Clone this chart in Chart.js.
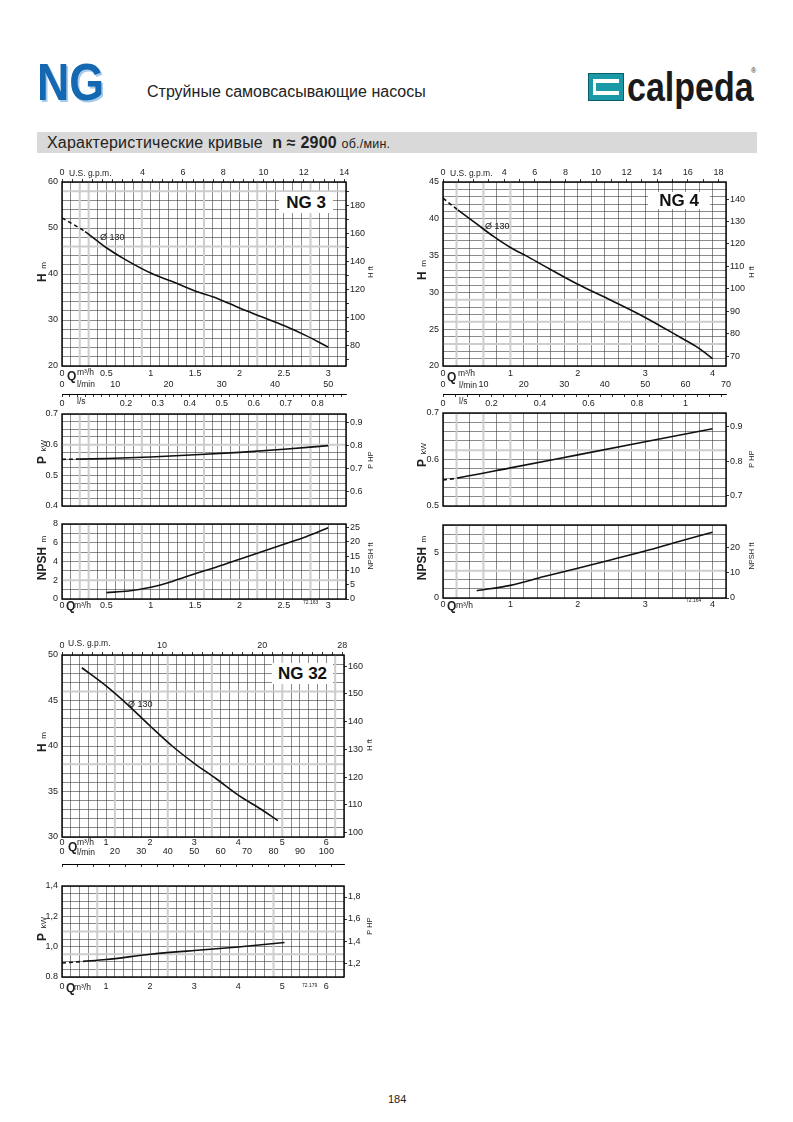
<!DOCTYPE html>
<html>
<head>
<meta charset="utf-8">
<title>NG — Характеристические кривые</title>
<script src="https://cdn.jsdelivr.net/npm/chart.js"></script>
<style>
  body { margin: 0; background: #fff; }
  #page { position: relative; width: 793px; height: 1122px; overflow: hidden;
          font-family: Arial, "Liberation Sans", Helvetica, sans-serif; color: #222; }
  #page canvas { position: absolute; z-index: 1; }
  .t { position: absolute; white-space: nowrap; line-height: 1; z-index: 2; }
  .tag { position: absolute; z-index: 2; background: #fff; text-align: center;
         font: bold 17px Arial, "Liberation Sans", sans-serif; color: #111; }
  .ng { left: 37px; top: 52px; font: bold 52px Arial, "Liberation Sans", sans-serif;
        color: #1467b1; text-shadow: 2px 2px 0 #a9cbeb; transform: scaleX(0.86); transform-origin: left top; }
  .cal { left: 627px; top: 65px; font: bold 40px Arial, "Liberation Sans", sans-serif; color: #1a1a1a;
         transform: scaleX(0.85); transform-origin: left top; }
  .band { position: absolute; left: 37px; top: 132px; width: 720px; height: 21px; background: #d9d9d9; }
  .logo { position: absolute; left: 588px; top: 73px; width: 34px; height: 26px; background: #1a9aa6; border: 1px solid #0c5d66; }
  .logo i { position: absolute; left: 4px; top: 5px; width: 26px; height: 16px; background: #fff; }
  .logo b { position: absolute; left: 7px; top: 9px; width: 23px; height: 8px; background: #1a9aa6; }
</style>
</head>
<body>
<div id="page">
  <div class="t ng">NG</div>
  <div class="t" style="left:147px;top:84px;font-size:16px;">Струйные самовсасывающие насосы</div>
  <div class="logo"><i></i><b></b></div>
  <div class="t cal">calpeda</div>
  <div class="t" style="left:751px;top:67px;font-size:7px;">®</div>
  <div class="band"></div>
  <div class="t" style="left:47px;top:135px;font-size:16px;letter-spacing:0.2px;">Характеристические кривые&nbsp; <b>n ≈ 2900</b> <span style="font-size:12.5px">об./мин.</span></div>
  <div class="t" style="left:388px;top:1094px;font-size:11px;">184</div>
</div>
<script>
// ---- unit conversions (from m³/h and m / kW) ----
const GPM = 0.2271, LMIN = 1000 / 60, LS = 1 / 3.6, FT = 3.2808, HP = 1.341;

// ---- NG 3 curves ----
const ng3HQ   = [0, 0.26, 0.39, 0.5, 0.69, 1.0, 1.25, 1.5, 1.75, 2.0, 2.25, 2.5, 2.75, 3.0];
const ng3H    = [52.2, 49.2, 47.3, 45.7, 43.4, 40.2, 38.3, 36.3, 34.7, 32.6, 30.7, 28.8, 26.6, 24.1];
const ng3PQ   = [0, 0.2, 0.5, 1.0, 1.5, 2.0, 2.5, 3.0];
const ng3P    = [0.552, 0.553, 0.555, 0.560, 0.567, 0.575, 0.585, 0.597];
const ng3NQ   = [0.5, 0.75, 1.0, 1.25, 1.5, 1.75, 2.0, 2.25, 2.5, 2.75, 3.0];
const ng3NPSH = [0.68, 0.85, 1.25, 1.9, 2.7, 3.45, 4.25, 5.05, 5.85, 6.65, 7.6];

// ---- NG 4 ----
const ng4HQ   = [0, 0.22, 0.5, 0.75, 1.0, 1.25, 1.5, 2.0, 2.5, 3.0, 3.5, 3.8, 4.0];
const ng4H    = [42.8, 41.2, 39.3, 37.6, 36.1, 34.9, 33.6, 31.1, 28.9, 26.6, 24.0, 22.4, 21.0];
const ng4PQ   = [0, 0.21, 1.0, 2.0, 3.0, 4.0];
const ng4P    = [0.556, 0.560, 0.582, 0.610, 0.638, 0.666];
const ng4NQ   = [0.5, 1.0, 1.5, 2.0, 2.5, 3.0, 3.5, 4.0];
const ng4NPSH = [0.8, 1.38, 2.35, 3.27, 4.2, 5.15, 6.2, 7.2];

// ---- NG 32 ----
const ng32HQ  = [0.45, 1.0, 1.5, 2.0, 2.5, 3.0, 3.5, 4.0, 4.5, 4.9];
const ng32H   = [48.6, 46.6, 44.5, 42.2, 40.0, 38.1, 36.4, 34.6, 33.1, 31.8];
const ng32PQ  = [0, 0.48, 1.0, 2.0, 3.0, 4.0, 5.05];
const ng32P   = [0.892, 0.903, 0.915, 0.950, 0.975, 0.998, 1.027];

// ---- tick labels ----
const ng3QLabels    = [0, 0.5, 1, 1.5, 2, 2.5, 3];
const ng3GpmLabels  = [0, 4, 6, 8, 10, 12, 14];
const ng3LminLabels = [0, 10, 20, 30, 40, 50];
const ng3LsLabels   = [0, 0.2, 0.3, 0.4, 0.5, 0.6, 0.7, 0.8];
const ng3HLabels    = [20, 30, 40, 50, 60];
const ng3FtLabels   = [80, 100, 120, 140, 160, 180];
const ng3PLabels    = [0.4, 0.5, 0.6, 0.7];
const ng3HpLabels   = [0.6, 0.7, 0.8, 0.9];
const ng3NLabels    = [0, 2, 4, 6, 8];
const ng3NftLabels  = [0, 5, 10, 15, 20, 25];

const ng4QLabels    = [0, 1, 2, 3, 4];
const ng4GpmLabels  = [0, 4, 6, 8, 10, 12, 14, 16, 18];
const ng4LminLabels = [0, 10, 20, 30, 40, 50, 60, 70];
const ng4LsLabels   = [0, 0.2, 0.4, 0.6, 0.8, 1];
const ng4HLabels    = [20, 25, 30, 35, 40, 45];
const ng4FtLabels   = [70, 80, 90, 100, 110, 120, 130, 140];
const ng4PLabels    = [0.5, 0.6, 0.7];
const ng4HpLabels   = [0.7, 0.8, 0.9];
const ng4NLabels    = [0, 5];
const ng4NftLabels  = [0, 10, 20];

const ng32QLabels    = [0, 1, 2, 3, 4, 5, 6];
const ng32GpmLabels  = [0, 10, 20, 28];
const ng32LminLabels = [0, 20, 30, 40, 50, 60, 70, 80, 90, 100];
const ng32HLabels    = [30, 35, 40, 45, 50];
const ng32FtLabels   = [100, 110, 120, 130, 140, 150, 160];
const ng32PLabels    = [0.8, 1.0, 1.2, 1.4];
const ng32PTexts     = ['0.8', '1,0', '1,2', '1,4'];
const ng32HpLabels   = [1.2, 1.4, 1.6, 1.8];
const ng32HpTexts    = ['1,2', '1,4', '1,6', '1,8'];

// light grey reference lines printed over the grid
const ng3GreyQ  = [0.2, 0.3, 0.9, 1.6, 2.2, 2.8];
const ng4GreyQ  = [0.2, 0.6, 1.0];
const ng32GreyQ = [1.2, 2.4, 3.4, 5.0, 6.2];

const page = document.getElementById('page');
const FONT = 'Arial, "Liberation Sans", Helvetica, sans-serif';
const tickFont = { family: FONT, size: 9 };
const greyLines = new WeakMap();

// grey lines under the curves, black frame on top
Chart.register({
  id: 'frame',
  beforeDatasetsDraw(chart) {
    const g = greyLines.get(chart.canvas) || {};
    const { ctx, chartArea: a, scales } = chart;
    ctx.save();
    ctx.strokeStyle = '#cdcdcd';
    ctx.lineWidth = 2;
    ctx.beginPath();
    (g.xs || []).forEach(v => {
      const px = scales.x.getPixelForValue(v);
      ctx.moveTo(px, a.top); ctx.lineTo(px, a.bottom);
    });
    (g.ys || []).forEach(v => {
      const py = scales.y.getPixelForValue(v);
      ctx.moveTo(a.left, py); ctx.lineTo(a.right, py);
    });
    ctx.stroke();
    ctx.restore();
  },
  afterDatasetsDraw(chart) {
    const { ctx, chartArea: a } = chart;
    ctx.save();
    ctx.strokeStyle = '#000';
    ctx.lineWidth = 1.4;
    ctx.strokeRect(a.left, a.top, a.right - a.left, a.bottom - a.top);
    ctx.restore();
  }
});

function pick(values, texts) {
  return v => {
    const i = values.findIndex(l => Math.abs(l - v) < 1e-6);
    return i < 0 ? '' : (texts ? texts[i] : String(values[i]));
  };
}

function ax(position, min, max, step, labels, o = {}) {
  return {
    type: 'linear', position, min, max,
    weight: o.weight || 0,
    size: o.size || 0,
    afterFit: s => {
      if (s.isHorizontal()) s.height = o.size || 0; else s.width = o.size || 0;
      s.paddingLeft = s.paddingRight = s.paddingTop = s.paddingBottom = 0;
    },
    border: { display: !!o.border, color: '#000', width: 1 },
    grid: {
      drawOnChartArea: !!o.main,
      drawTicks: !!o.tick,
      tickLength: o.tick || 0,
      color: o.main ? '#3c3c3c' : '#000',
      lineWidth: o.main ? 0.6 : 0.8
    },
    ticks: {
      stepSize: step, autoSkip: false, includeBounds: false, maxRotation: 0, minRotation: 0,
      display: labels !== null,
      padding: o.pad == null ? 2 : o.pad,
      font: tickFont, color: '#222',
      callback: pick(labels || [], o.texts)
    }
  };
}

function curve(qs, vs, dashTo) {
  return {
    data: qs.map((q, i) => ({ x: q, y: vs[i] })),
    xAxisID: 'x', yAxisID: 'y',
    borderColor: '#111', borderWidth: 1.6, pointRadius: 0, fill: false,
    cubicInterpolationMode: 'monotone',
    segment: { borderDash: c => (dashTo != null && c.p1.parsed.x <= dashTo + 1e-9) ? [4, 3] : undefined }
  };
}

// plot = [left, top, right, bottom] of the framed grid on the page
function panel(plot, scales, datasets, grey) {
  const pad = 4;
  const m = { left: pad, right: pad, top: pad, bottom: pad };
  Object.values(scales).forEach(s => { m[s.position] += s.size; });
  const cv = document.createElement('canvas');
  cv.width = plot[2] - plot[0] + m.left + m.right;
  cv.height = plot[3] - plot[1] + m.top + m.bottom;
  cv.style.left = (plot[0] - m.left) + 'px';
  cv.style.top = (plot[1] - m.top) + 'px';
  page.appendChild(cv);
  greyLines.set(cv, grey);
  new Chart(cv, {
    type: 'line',
    data: { datasets },
    options: {
      responsive: false, animation: false, events: [],
      layout: { padding: pad },
      plugins: { legend: { display: false }, tooltip: { enabled: false } },
      scales
    }
  });
}

// ================= NG 3 =================
const Q3 = 3.2;
panel([62, 182, 346, 366], {
  x:    ax('bottom', 0, Q3, 0.1, ng3QLabels, { main: true, size: 11, pad: 2 }),
  lmin: ax('bottom', 0, Q3 * LMIN, 10, ng3LminLabels, { size: 17, pad: 2, weight: 1 }),
  ls:   ax('bottom', 0, Q3 * LS, 0.025, ng3LsLabels, { size: 20, pad: 1, tick: 3, border: true, weight: 2 }),
  gpm:  ax('top', 0, Q3 / GPM, 0.5, ng3GpmLabels, { size: 22, pad: 1, tick: 3 }),
  y:    ax('left', 20, 60, 2, ng3HLabels, { main: true, size: 42, pad: 4 }),
  y2:   ax('right', 20 * FT, 60 * FT, 10, ng3FtLabels, { size: 34, pad: 1, tick: 3 })
}, [curve(ng3HQ, ng3H, 0.26)], { xs: ng3GreyQ, ys: [58, 46] });

panel([62, 414, 346, 506], {
  x:  ax('bottom', 0, Q3, 0.1, null, { main: true }),
  y:  ax('left', 0.4, 0.7, 0.025, ng3PLabels, { main: true, size: 42, pad: 4 }),
  y2: ax('right', 0.4 * HP, 0.7 * HP, 0.1, ng3HpLabels, { size: 34, pad: 1, tick: 3 })
}, [curve(ng3PQ, ng3P, 0.2)], { xs: ng3GreyQ, ys: [0.6] });

panel([62, 524, 346, 599], {
  x:  ax('bottom', 0, Q3, 0.1, ng3QLabels, { main: true, size: 14, pad: 1 }),
  y:  ax('left', 0, 8, 1, ng3NLabels, { main: true, size: 42, pad: 4 }),
  y2: ax('right', 0, 8 * FT, 5, ng3NftLabels, { size: 34, pad: 1, tick: 3 })
}, [curve(ng3NQ, ng3NPSH)], { xs: ng3GreyQ, ys: [2] });

// ================= NG 4 =================
const Q4 = 4.2;
panel([443, 182, 726, 366], {
  x:    ax('bottom', 0, Q4, 0.2, ng4QLabels, { main: true, size: 11, pad: 2 }),
  lmin: ax('bottom', 0, Q4 * LMIN, 10, ng4LminLabels, { size: 17, pad: 2, weight: 1 }),
  ls:   ax('bottom', 0, Q4 * LS, 0.05, ng4LsLabels, { size: 20, pad: 1, tick: 3, border: true, weight: 2 }),
  gpm:  ax('top', 0, Q4 / GPM, 1, ng4GpmLabels, { size: 22, pad: 1, tick: 3 }),
  y:    ax('left', 20, 45, 1, ng4HLabels, { main: true, size: 42, pad: 4 }),
  y2:   ax('right', 20 * FT, 45 * FT, 10, ng4FtLabels, { size: 34, pad: 1, tick: 3 })
}, [curve(ng4HQ, ng4H, 0.22)], { xs: ng4GreyQ, ys: [29, 26, 23] });

panel([443, 413, 726, 506], {
  x:  ax('bottom', 0, Q4, 0.2, null, { main: true }),
  y:  ax('left', 0.5, 0.7, 0.02, ng4PLabels, { main: true, size: 42, pad: 4 }),
  y2: ax('right', 0.5 * HP, 0.7 * HP, 0.1, ng4HpLabels, { size: 34, pad: 1, tick: 3 })
}, [curve(ng4PQ, ng4P, 0.21)], { xs: ng4GreyQ, ys: [0.62] });

panel([443, 525, 726, 598], {
  x:  ax('bottom', 0, Q4, 0.2, ng4QLabels, { main: true, size: 14, pad: 1 }),
  y:  ax('left', 0, 8, 1, ng4NLabels, { main: true, size: 42, pad: 4 }),
  y2: ax('right', 0, 29, 10, ng4NftLabels, { size: 34, pad: 1, tick: 3 })
}, [curve(ng4NQ, ng4NPSH)], { xs: ng4GreyQ.slice(0, 2), ys: [3] });

// ================= NG 32 =================
const Q32 = 6.4;
panel([62, 655, 344, 837], {
  x:    ax('bottom', 0, Q32, 0.2, ng32QLabels, { main: true, size: 9, pad: 0 }),
  lmin: ax('bottom', 0, Q32 * LMIN, 10, ng32LminLabels, { size: 18, pad: 0, weight: 1 }),
  ls:   ax('bottom', 0, Q32 * LS, 0.1, null, { size: 4, tick: 3, border: true, weight: 2 }),
  gpm:  ax('top', 0, Q32 / GPM, 1, ng32GpmLabels, { size: 22, pad: 1, tick: 3 }),
  y:    ax('left', 30, 50, 1, ng32HLabels, { main: true, size: 42, pad: 4 }),
  y2:   ax('right', 30 * FT, 50 * FT, 10, ng32FtLabels, { size: 34, pad: 1, tick: 3 })
}, [curve(ng32HQ, ng32H)], { xs: ng32GreyQ, ys: [46, 38] });

panel([62, 886, 344, 977], {
  x:  ax('bottom', 0, Q32, 0.2, ng32QLabels, { main: true, size: 16, pad: 4 }),
  y:  ax('left', 0.8, 1.4, 0.05, ng32PLabels, { main: true, size: 42, pad: 4, texts: ng32PTexts }),
  y2: ax('right', 1.073, 1.9, 0.2, ng32HpLabels, { size: 34, pad: 1, tick: 3, texts: ng32HpTexts })
}, [curve(ng32PQ, ng32P, 0.48)], { xs: [0.8, 2.4, 3.4, 4.8], ys: [1.1, 0.95] });

// ================= text overlays =================
function txt(x, cy, html, size, css = '') {
  const d = document.createElement('div');
  d.className = 't';
  d.style.cssText = `left:${x}px;top:${cy - size / 2}px;font-size:${size}px;${css}`;
  d.innerHTML = html;
  page.appendChild(d);
}
function vtitle(cx, cy, html) {
  const d = document.createElement('div');
  d.className = 't';
  d.style.cssText = `left:${cx}px;top:${cy}px;transform:translate(-50%,-50%) rotate(-90deg);`;
  d.innerHTML = html;
  page.appendChild(d);
}
function tag(x, y, w, h, label) {
  const d = document.createElement('div');
  d.className = 'tag';
  d.style.cssText = `left:${x}px;top:${y}px;width:${w}px;height:${h}px;line-height:${h}px;`;
  d.textContent = label;
  page.appendChild(d);
}
const big = s => `<b style="font-size:12px">${s}</b>`;
const small = s => `<span style="font-size:8px">${s}</span>`;
const tiny = s => `<span style="font-size:7.5px">${s}</span>`;

// NG 3
txt(69, 173, 'U.S. g.p.m.', 8.5);
tag(279, 192, 54, 21, 'NG 3');
txt(100, 237, 'Ø 130', 9);
vtitle(41, 272, big('H') + ' ' + small('m'));
vtitle(368, 272, tiny('H ft'));
txt(67, 376, 'Q', 12, 'font-weight:bold;');
txt(77, 372, 'm³/h', 8.5);
txt(77, 384, 'l/min', 8.5);
txt(77, 401, 'l/s', 8.5);
vtitle(41, 452, big('P') + ' ' + small('kW'));
vtitle(368, 460, tiny('P HP'));
vtitle(41, 558, big('NPSH') + ' ' + small('m'));
vtitle(368, 556, tiny('NPSH ft'));
txt(66, 606, 'Q', 12, 'font-weight:bold;');
txt(74, 605, 'm³/h', 8.5);
txt(303, 602, '72.163', 5);

// NG 4
txt(450, 173, 'U.S. g.p.m.', 8.5);
tag(648, 192, 62, 17, 'NG 4');
txt(485, 226, 'Ø 130', 9);
vtitle(421, 270, big('H') + ' ' + small('m'));
vtitle(749, 272, tiny('H ft'));
txt(447, 377, 'Q', 12, 'font-weight:bold;');
txt(458, 373, 'm³/h', 8.5);
txt(459, 385, 'l/min', 8.5);
txt(459, 401, 'l/s', 8.5);
vtitle(421, 455, big('P') + ' ' + small('kW'));
vtitle(749, 459, tiny('P HP'));
vtitle(421, 558, big('NPSH') + ' ' + small('m'));
vtitle(749, 556, tiny('NPSH ft'));
txt(447, 606, 'Q', 12, 'font-weight:bold;');
txt(456, 605, 'm³/h', 8.5);
txt(686, 600, '72.164', 5);

// NG 32
txt(68, 643, 'U.S. g.p.m.', 8.5);
tag(272, 663, 61, 21, 'NG 32');
txt(128, 704, 'Ø 130', 9);
vtitle(41, 742, big('H') + ' ' + small('m'));
vtitle(367, 745, tiny('H ft'));
txt(68, 847, 'Q', 12, 'font-weight:bold;');
txt(77, 842, 'm³/h', 8.5);
txt(77, 852, 'l/min', 8.5);
vtitle(41, 929, big('P') + ' ' + small('kW'));
vtitle(367, 926, tiny('P HP'));
txt(66, 988, 'Q', 12, 'font-weight:bold;');
txt(74, 987, 'm³/h', 8.5);
txt(302, 985, '72.179', 5);
</script>
</body>
</html>
